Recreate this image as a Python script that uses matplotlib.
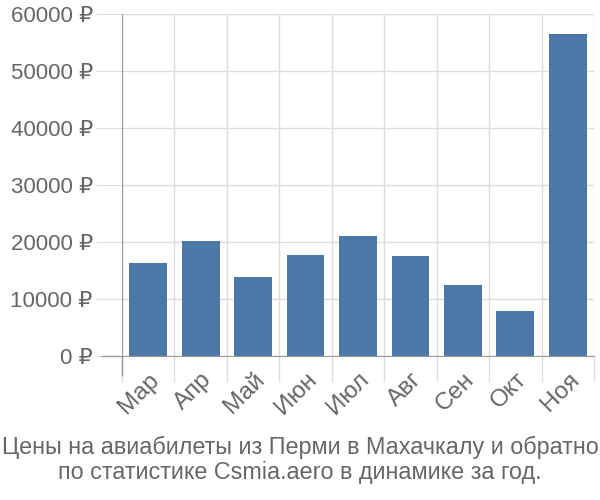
import numpy as np
import matplotlib.pyplot as plt

plt.rcParams['font.family'] = ['Liberation Sans', 'DejaVu Sans']

# данные
months = ['Мар', 'Апр', 'Май', 'Июн', 'Июл', 'Авг', 'Сен', 'Окт', 'Ноя']
prices = [16370, 20120, 13860, 17670, 21050, 17540, 12510, 7840, 56490]
yticks = [0, 10000, 20000, 30000, 40000, 50000, 60000]

bar_color = '#4c78a8'
text_color = '#666666'
grid_color = '#dddddd'
axis_color = '#999999'

fig = plt.figure(figsize=(6, 5), dpi=100)
ax = fig.add_axes([122 / 600, 1 - 356 / 500, (594 - 122) / 600, (356 - 14) / 500])

x = np.arange(len(months))
ax.bar(x, prices, width=0.72, color=bar_color, zorder=3)

ax.set_xlim(-0.5, len(months) - 0.5)
ax.set_ylim(0, 60000)

# подписи по оси Y
ax.set_yticks(yticks)
ax.set_yticklabels([f'{v} ₽' for v in yticks])
ax.tick_params(axis='y', length=19, color=grid_color, labelsize=16,
               labelcolor=text_color, pad=2)
ax.grid(axis='y', color=grid_color, linewidth=1, zorder=0)

# категории и вертикальные линии между ними
ax.set_xticks(x)
ax.set_xticklabels(months, rotation=45, ha='right', va='top',
                   rotation_mode='anchor')
ax.tick_params(axis='x', which='major', length=0, labelsize=17.5,
               labelcolor=text_color, pad=9)
ax.set_xticks(np.arange(-0.5, len(months)), minor=True)
ax.tick_params(axis='x', which='minor', length=19, color=grid_color, width=1)
ax.grid(axis='x', which='minor', color=grid_color, linewidth=1, zorder=0)

for s in ['top', 'right']:
    ax.spines[s].set_visible(False)
ax.spines['left'].set_color(axis_color)
ax.spines['bottom'].set_color(axis_color)
ax.spines['bottom'].set_zorder(4)
ax.plot([-0.5, -0.5], [0, -19 / 342 * 60000], color=axis_color, lw=1,
        clip_on=False, zorder=4)
ax.plot([-0.5 - 20 / 52.4, -0.5], [0, 0], color=axis_color, lw=1,
        clip_on=False, zorder=4)

fig.text(0.5, 1 - 447 / 500, 'Цены на авиабилеты из Перми в Махачкалу и обратно',
         ha='center', va='center', fontsize=16.8, color=text_color)
fig.text(0.5, 1 - 473 / 500, 'по статистике Csmia.aero в динамике за год.',
         ha='center', va='center', fontsize=16.8, color=text_color)

fig.savefig('out.png', dpi=100)
